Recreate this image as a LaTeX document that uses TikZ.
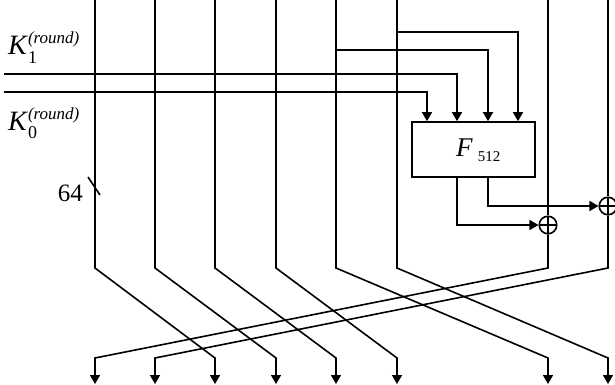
\documentclass[tikz,border=0pt]{standalone}
\usepackage{fontspec}
\setmainfont{Liberation Serif}
\usetikzlibrary{arrows.meta,calc}
\begin{document}
\begin{tikzpicture}[x=1pt,y=-1pt,
  wire/.style={draw=black, line width=1.6pt},
  arr/.style={wire,-{Triangle[length=9pt,width=10pt]}},
  fbox/.style={draw, line width=1.6pt, minimum width=123pt, minimum height=55pt, inner sep=0pt},
  xor/.style={circle, draw, line width=1.6pt, minimum size=17.5pt, inner sep=0pt,
    path picture={\draw[line width=1.6pt] (path picture bounding box.west) -- (path picture bounding box.east);
                  \draw[line width=1.6pt] (path picture bounding box.north) -- (path picture bounding box.south);}},
  lbl/.style={inner sep=0pt, font=\fontsize{25}{25}\selectfont}]
\useasboundingbox (0,0) rectangle (615,385);

\foreach \i/\x in {1/95,2/155,3/215,4/276,5/336,6/397,7/548,8/608} {
  \coordinate (t\i) at (\x,0);
  \coordinate (k\i) at (\x,268);
  \coordinate (b\i) at (\x,358);
  \coordinate (e\i) at (\x,384);
}
\coordinate (i1) at (427,0);
\coordinate (i2) at (457,0);
\coordinate (i3) at (488,0);
\coordinate (i4) at (518,0);

% F box
\node[fbox] (F) at (473.3,149.5) {};
\node[inner sep=0pt, anchor=base west] (Ftext) at (456,156) {\fontsize{27}{27}\selectfont\textit{F}\hspace{5pt}\raisebox{-5.5pt}{\fontsize{15}{15}\selectfont 512}};

% XORs
\node[xor] (x1) at (548,225) {};
\node[xor] (x2) at (608,206) {};

% columns
\draw[arr] (t1) -- (k1) -- (b3) -- (e3);
\draw[arr] (t2) -- (k2) -- (b4) -- (e4);
\draw[arr] (t3) -- (k3) -- (b5) -- (e5);
\draw[arr] (t4) -- (k4) -- (b6) -- (e6);
\draw[arr] (t5) -- (k5) -- (b7) -- (e7);
\draw[arr] (t6) -- (k6) -- (b8) -- (e8);
\draw[wire] (t7) -- (x1);
\draw[arr] (x1) -- (k7) -- (b1) -- (e1);
\draw[wire] (t8) -- (x2);
\draw[arr] (x2) -- (k8) -- (b2) -- (e2);

% key lines
\coordinate (k1L) at (4,74);
\coordinate (k0L) at (4,92);
\draw[arr] (k0L) -| (i1 |- F.north);
\draw[arr] (k1L) -| (i2 |- F.north);
\coordinate (s5) at (336,50);
\coordinate (s6) at (397,32);
\draw[arr] (s5) -| (i3 |- F.north);
\draw[arr] (s6) -| (i4 |- F.north);

% F outputs
\draw[arr] (i2 |- F.south) |- (x1);
\draw[arr] (i3 |- F.south) |- (x2);

% width tick
\coordinate (tk1) at (88,177);
\coordinate (tk2) at (100,195);
\draw[wire] (tk1) -- (tk2);
\node[lbl, anchor=base east] (n64) at (83,201) {64};

% key labels
\node[anchor=base west, inner sep=0pt] (K1) at (8,55) {\fontsize{28}{28}\selectfont\textit{K}\rlap{\raisebox{-9pt}{\fontsize{18}{18}\selectfont 1}}\raisebox{11pt}{\fontsize{17}{17}\selectfont\itshape (round)}};
\node[anchor=base west, inner sep=0pt] (K0) at (8,130) {\fontsize{28}{28}\selectfont\textit{K}\rlap{\raisebox{-9pt}{\fontsize{18}{18}\selectfont 0}}\raisebox{11pt}{\fontsize{17}{17}\selectfont\itshape (round)}};
\end{tikzpicture}
\end{document}
